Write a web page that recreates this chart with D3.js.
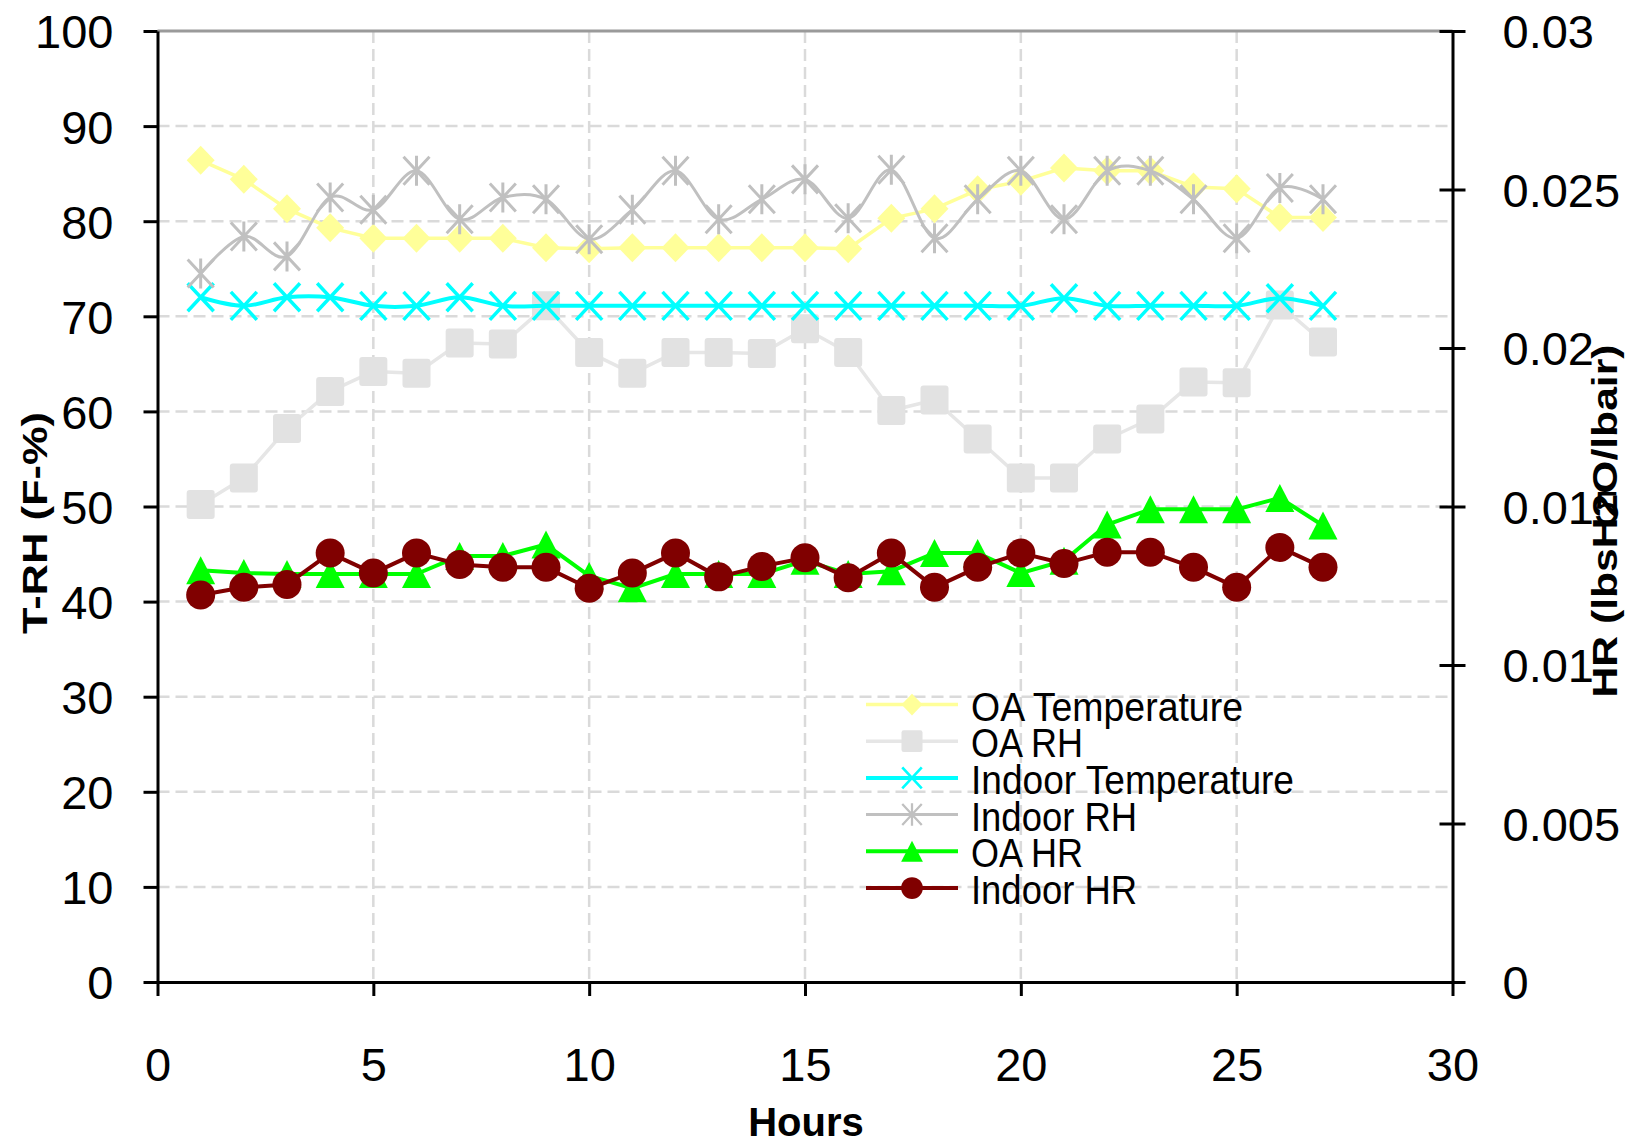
<!DOCTYPE html>
<html>
<head>
<meta charset="utf-8">
<script src="https://cdn.jsdelivr.net/npm/d3@7"></script>
<style>
  body { margin: 0; background: #fff; }
  text { font-family: "Liberation Sans", Arial, sans-serif; fill: #000; }
</style>
</head>
<body>
<div id="chart"></div>
<script>
// hours 1..27
var hours = [1, 2, 3, 4, 5, 6, 7, 8, 9, 10, 11, 12, 13, 14, 15, 16, 17, 18, 19, 20, 21, 22, 23, 24, 25, 26, 27];

// left axis series (F / %)
var oaTemp = [86.4, 84.4, 81.3, 79.3, 78.2, 78.2, 78.2, 78.2, 77.2, 77.1, 77.2, 77.2, 77.2, 77.2, 77.2, 77.1, 80.3, 81.3, 83.3, 84.2, 85.6, 85.3, 85.3, 83.6, 83.4, 80.4, 80.4];
var oaRH = [50.2, 53.0, 58.2, 62.1, 64.2, 64.0, 67.2, 67.1, 71.1, 66.2, 64.0, 66.2, 66.2, 66.1, 68.7, 66.2, 60.1, 61.2, 57.1, 53.0, 53.0, 57.1, 59.2, 63.1, 63.0, 71.2, 67.3];
var indoorTemp = [72.0, 71.1, 72.0, 72.0, 71.1, 71.1, 72.0, 71.1, 71.1, 71.1, 71.1, 71.1, 71.1, 71.1, 71.1, 71.1, 71.1, 71.1, 71.1, 71.1, 71.9, 71.1, 71.1, 71.1, 71.1, 71.9, 71.1];
var indoorRH = [74.5, 78.4, 76.3, 82.5, 81.2, 85.3, 80.2, 82.5, 82.3, 78.1, 81.2, 85.3, 80.2, 82.3, 84.4, 80.3, 85.4, 78.2, 82.3, 85.3, 80.2, 85.3, 85.3, 82.3, 78.2, 83.5, 82.3];

// right axis series (lbsH2O/lbair)
var oaHR = [0.01299, 0.0129, 0.01287, 0.01287, 0.01287, 0.01287, 0.01344, 0.01344, 0.0138, 0.01281, 0.01242, 0.01287, 0.01287, 0.01287, 0.01329, 0.01287, 0.01296, 0.01353, 0.01353, 0.0129, 0.01329, 0.01443, 0.01491, 0.01491, 0.01491, 0.01527, 0.0144];
var indoorHR = [0.01221, 0.01245, 0.01254, 0.01353, 0.0129, 0.01353, 0.01317, 0.01308, 0.01308, 0.01242, 0.0129, 0.01353, 0.01278, 0.01311, 0.01338, 0.01275, 0.01353, 0.01245, 0.01308, 0.01353, 0.0132, 0.01356, 0.01356, 0.01308, 0.01245, 0.01371, 0.01308];

var xTicks = [0, 5, 10, 15, 20, 25, 30];
var yTicks = [0, 10, 20, 30, 40, 50, 60, 70, 80, 90, 100];
var y2Ticks = [0, 0.005, 0.01, 0.015, 0.02, 0.025, 0.03];
var legendNames = ["OA Temperature", "OA RH", "Indoor Temperature", "Indoor RH", "OA HR", "Indoor HR"];

var W = 1636, H = 1144;
var plotL = 157.5, plotR = 1452.5, plotT = 31, plotB = 982;

var svg = d3.select("#chart").append("svg")
  .attr("width", W)
  .attr("height", H);

var x = d3.scaleLinear().domain([0, 30]).range([plotL, plotR]);
var y = d3.scaleLinear().domain([0, 100]).range([plotB, plotT]);
var y2 = d3.scaleLinear().domain([0, 0.03]).range([plotB, plotT]);

// gridlines
svg.append("g").selectAll("line").data(yTicks.slice(1, -1)).enter().append("line")
  .attr("x1", plotL).attr("x2", plotR)
  .attr("y1", function(d) { return y(d); })
  .attr("y2", function(d) { return y(d); })
  .attr("stroke", "#dadada")
  .attr("stroke-width", 2.5)
  .style("stroke-dasharray", "12, 6");

svg.append("g").selectAll("line").data(xTicks.slice(1, -1)).enter().append("line")
  .attr("y1", plotT).attr("y2", plotB)
  .attr("x1", function(d) { return x(d); })
  .attr("x2", function(d) { return x(d); })
  .attr("stroke", "#dadada")
  .attr("stroke-width", 2.5)
  .style("stroke-dasharray", "12, 6");

// top border
svg.append("line")
  .attr("x1", plotL).attr("x2", plotR)
  .attr("y1", y(100)).attr("y2", y(100))
  .attr("stroke", "#9a9a9a")
  .attr("stroke-width", 3);

// axes
var gy = svg.append("g")
  .attr("transform", "translate(" + plotL + ",0)")
  .call(d3.axisLeft(y).tickValues(yTicks).tickSize(14).tickSizeOuter(0).tickPadding(30));

var gx = svg.append("g")
  .attr("transform", "translate(0," + plotB + ")")
  .call(d3.axisBottom(x).tickValues(xTicks).tickSize(14).tickSizeOuter(0).tickPadding(52));

var gy2 = svg.append("g")
  .attr("transform", "translate(" + plotR + ",0)")
  .call(d3.axisRight(y2).tickValues(y2Ticks).tickSize(13).tickSizeOuter(0).tickPadding(37)
    .tickFormat(function(d) { return String(+d.toFixed(3)); }));
gy2.selectAll(".tick line").attr("x1", -13);

[gy, gx, gy2].forEach(function(g) {
  g.select(".domain").attr("stroke", "#000").attr("stroke-width", 3);
  g.selectAll(".tick line").attr("stroke", "#000").attr("stroke-width", 3);
  g.selectAll(".tick text")
    .style("font-family", "'Liberation Sans', Arial, sans-serif")
    .style("font-size", "47px")
    .attr("fill", "#000");
});
gy.selectAll(".tick text").attr("dy", "0.36em");
gy2.selectAll(".tick text").attr("dy", "0.36em");

// axis titles
svg.append("text")
  .attr("text-anchor", "middle")
  .attr("x", (plotL + plotR) / 2 + 1)
  .attr("y", 1136)
  .style("font-size", "40px")
  .style("font-weight", "bold")
  .text("Hours");

svg.append("text")
  .attr("text-anchor", "middle")
  .attr("transform", "translate(47,523) rotate(-90)")
  .attr("textLength", 222)
  .attr("lengthAdjust", "spacingAndGlyphs")
  .style("font-size", "35px")
  .style("font-weight", "bold")
  .text("T-RH (F-%)");

svg.append("text")
  .attr("text-anchor", "middle")
  .attr("transform", "translate(1617,521) rotate(-90)")
  .attr("textLength", 353)
  .attr("lengthAdjust", "spacingAndGlyphs")
  .style("font-size", "35px")
  .style("font-weight", "bold")
  .text("HR (lbsH2O/lbair)");

// markers
function drawMarker(g, type, color) {
  if (type == "diamond") {
    g.append("path").attr("d", "M0,-14.5L14,0L0,14.5L-14,0Z").attr("fill", color);
  } else if (type == "square") {
    g.append("rect").attr("x", -14).attr("y", -14.5).attr("width", 28).attr("height", 29)
      .attr("rx", 3).attr("fill", color);
  } else if (type == "x") {
    g.append("path").attr("d", "M-13,-14L13,14M13,-14L-13,14")
      .attr("stroke", color).attr("stroke-width", 3.5).attr("fill", "none");
  } else if (type == "star") {
    g.append("path").attr("d", "M-13,-14L13,14M13,-14L-13,14M0,-15V15")
      .attr("stroke", color).attr("stroke-width", 3).attr("fill", "none");
  } else if (type == "triangle") {
    g.append("path").attr("d", "M0,-14L14.5,14L-14.5,14Z").attr("fill", color);
  } else if (type == "circle") {
    g.append("circle").attr("r", 14.5).attr("fill", color);
  }
}

var series = [
  { name: legendNames[0], values: oaTemp, scale: y, color: "#ffff99", lineColor: "#ffff99", width: 3.5, marker: "diamond", smooth: false },
  { name: legendNames[1], values: oaRH, scale: y, color: "#e2e2e2", lineColor: "#e6e6e6", width: 3.5, marker: "square", smooth: false },
  { name: legendNames[2], values: indoorTemp, scale: y, color: "#00ffff", lineColor: "#00ffff", width: 4, marker: "x", smooth: true },
  { name: legendNames[3], values: indoorRH, scale: y, color: "#c0c0c0", lineColor: "#c0c0c0", width: 3, marker: "star", smooth: true },
  { name: legendNames[4], values: oaHR, scale: y2, color: "#00ff00", lineColor: "#00ff00", width: 4, marker: "triangle", smooth: false },
  { name: legendNames[5], values: indoorHR, scale: y2, color: "#800000", lineColor: "#800000", width: 4, marker: "circle", smooth: false }
];

series.forEach(function(s) {
  var line = d3.line()
    .x(function(d, i) { return x(hours[i]); })
    .y(function(d) { return s.scale(d); })
    .curve(s.smooth ? d3.curveCardinal.tension(0) : d3.curveLinear);

  var g = svg.append("g");
  g.append("path")
    .attr("d", line(s.values))
    .attr("fill", "none")
    .attr("stroke", s.lineColor)
    .attr("stroke-width", s.width)
    .attr("stroke-linejoin", "round");

  g.selectAll(".pt").data(s.values).enter().append("g")
    .attr("class", "pt")
    .attr("transform", function(d, i) {
      return "translate(" + x(hours[i]) + "," + s.scale(d) + ")";
    })
    .each(function() { drawMarker(d3.select(this), s.marker, s.color); });
});

// legend
var legendLen = [272, 112, 323, 166, 112, 166];
var legend = svg.append("g");
series.forEach(function(s, i) {
  var ly = 704.5 + i * 36.7;
  legend.append("line")
    .attr("x1", 866).attr("x2", 958)
    .attr("y1", ly).attr("y2", ly)
    .attr("stroke", s.lineColor)
    .attr("stroke-width", s.width);
  var m = legend.append("g").attr("transform", "translate(912," + ly + ") scale(0.75)");
  drawMarker(m, s.marker, s.color);
  legend.append("text")
    .attr("x", 971)
    .attr("y", ly + 16)
    .attr("textLength", legendLen[i])
    .attr("lengthAdjust", "spacingAndGlyphs")
    .style("font-size", "41px")
    .text(s.name);
});
</script>
</body>
</html>
